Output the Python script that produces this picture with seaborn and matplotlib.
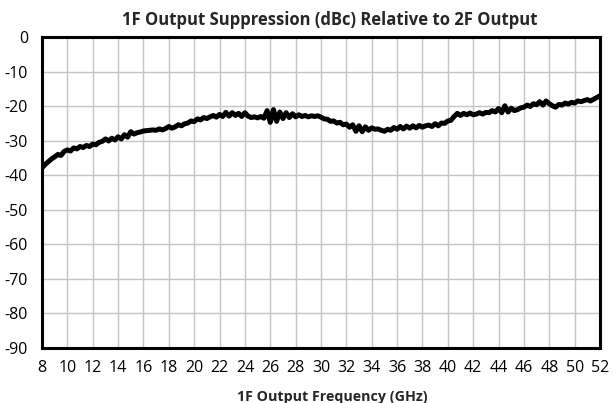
import numpy as np
import pandas as pd
import matplotlib
matplotlib.use("Agg")
import matplotlib.pyplot as plt
import seaborn as sns

title = "1F Output Suppression (dBc) Relative to 2F Output"
xlabel = "1F Output Frequency (GHz)"
x_ticks = list(range(8, 53, 2))
y_ticks = list(range(-90, 1, 10))

freq_start, freq_stop, freq_step = 8.0, 52.0, 0.25
suppression_dbc = [
    -37.8, -36.8, -36.0, -35.2, -34.6, -33.9, -34.2, -33.0,
    -32.6, -32.9, -32.0, -32.3, -31.6, -31.9, -31.3, -31.6,
    -30.9, -31.1, -30.4, -30.1, -29.4, -30.0, -29.2, -29.7,
    -28.8, -29.4, -28.2, -28.9, -27.3, -28.0, -27.6, -27.4,
    -27.1, -27.0, -26.9, -26.8, -26.9, -26.5, -26.8, -26.4,
    -25.8, -26.3, -25.9, -25.3, -25.6, -25.0, -24.8, -24.2,
    -24.4, -23.6, -23.9, -23.2, -23.5, -23.0, -22.6, -23.1,
    -22.3, -22.9, -21.7, -22.8, -21.8, -22.6, -22.0, -22.9,
    -21.8, -22.8, -23.2, -23.0, -23.3, -22.9, -23.4, -21.2,
    -24.6, -20.9, -24.3, -21.6, -23.5, -21.8, -23.2, -22.1,
    -23.0, -22.4, -22.9, -22.6, -23.0, -22.7, -22.9, -22.7,
    -23.1, -23.6, -23.7, -24.3, -24.2, -24.8, -24.6, -25.3,
    -25.1, -26.0, -25.3, -27.2, -25.6, -27.3, -25.9, -26.9,
    -26.2, -26.6, -26.5, -26.9, -27.2, -26.6, -26.9, -26.1,
    -26.6, -25.8, -26.5, -25.7, -26.3, -25.6, -26.2, -25.5,
    -26.0, -25.6, -25.4, -25.8, -25.0, -25.6, -24.8, -24.9,
    -24.2, -24.0, -22.9, -22.0, -22.6, -22.0, -22.4, -21.9,
    -22.4, -22.2, -21.8, -22.2, -21.7, -21.8, -21.2, -21.6,
    -20.6, -21.8, -19.8, -21.6, -20.5, -21.2, -20.9, -20.4,
    -20.2, -19.6, -20.0, -19.2, -19.5, -18.6, -19.6, -18.4,
    -19.2, -19.8, -20.2, -19.4, -19.6, -19.0, -19.3, -18.8,
    -19.0, -18.4, -18.6, -18.3, -18.0, -18.4, -17.9, -17.4,
    -16.9,
]

n = len(suppression_dbc)
freq = np.linspace(freq_start, freq_stop, n)
df = pd.DataFrame({"freq": freq, "dbc": suppression_dbc})

sns.set_style("white")
plt.rcParams["font.family"] = ["Open Sans", "DejaVu Sans"]
plt.rcParams["axes.unicode_minus"] = False

fig = plt.figure(figsize=(6.15, 4.03), dpi=100)
ax = fig.add_axes([0.0683, 0.1365, 0.9073, 0.7705])

ax.set_xlim(8, 52)
ax.set_ylim(-90, 0)
ax.set_xticks(x_ticks)
ax.set_yticks(y_ticks)
ax.grid(True, color="#c4c4c4", linewidth=1.0)
ax.set_axisbelow(True)

sns.lineplot(data=df, x="freq", y="dbc", ax=ax, color="black", linewidth=3.6)

for s in ax.spines.values():
    s.set_color("black")
    s.set_linewidth(2.2)
    s.set_zorder(5)

ax.tick_params(axis="both", length=0, labelsize=11.5, colors="black")
ax.tick_params(axis="y", pad=10)
ax.tick_params(axis="x", pad=9)
ax.set_xlabel(xlabel, fontsize=10.3, fontweight="bold")
ax.xaxis.set_label_coords(0.52, -0.135)
ax.set_ylabel("")
ax.set_title(title, fontsize=12, fontweight="bold", pad=9, x=0.515)

fig.savefig("out.png", dpi=100)
